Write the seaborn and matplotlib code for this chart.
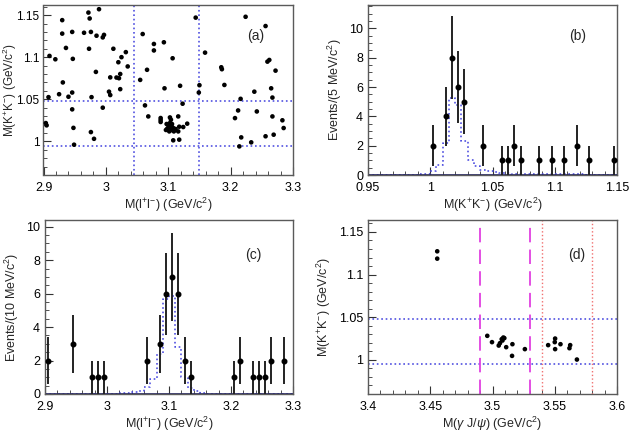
import numpy as np
import pandas as pd
import matplotlib
matplotlib.use("Agg")
import matplotlib.pyplot as plt
from matplotlib.ticker import MultipleLocator, FuncFormatter
import seaborn as sns

# ---------------- data ----------------
# (a) scatter: M(l+l-) vs M(K+K-)
a_mll = [2.9037, 2.905, 2.9096, 2.908, 2.919, 2.925, 2.930, 2.930, 2.931, 2.936, 2.940, 2.946,
         2.946, 2.947, 2.946, 2.948, 2.949, 2.965, 2.972, 2.974, 2.973, 2.976, 2.977, 2.976,
         2.981, 2.984, 2.985, 2.989, 2.995, 2.997, 2.995, 3.007, 3.005, 3.007, 3.012, 3.017,
         3.020, 3.021, 3.023, 3.023, 3.025, 3.032, 3.035,
         3.055, 3.059, 3.0627, 3.066, 3.068, 3.077, 3.077, 3.093, 3.094, 3.107, 3.119, 3.123,
         3.144, 3.150, 3.149,
         3.0878, 3.0878, 3.0878, 3.1027, 3.1043, 3.116, 3.0974, 3.100, 3.1016, 3.0984, 3.0963,
         3.1054, 3.108, 3.1054, 3.1016, 3.109, 3.1118, 3.116, 3.1176, 3.124, 3.1304, 3.108,
         3.1176, 3.1027, 3.106,
         3.159, 3.185, 3.186, 3.190, 3.207, 3.212, 3.216, 3.214, 3.217, 3.224, 3.233, 3.238,
         3.242, 3.256, 3.256, 3.259, 3.262, 3.265, 3.267, 3.267, 3.269, 3.272, 3.283, 3.285]
a_mkk = [1.0217, 1.019, 1.1015, 1.0525, 1.0975, 1.056, 1.144, 1.128, 1.070, 1.111, 1.053, 1.058,
         1.130, 1.098, 1.038, 1.016, 0.996, 1.129, 1.153, 1.146, 1.110, 1.130, 1.0525, 1.011,
         1.003, 1.0825, 1.1255, 1.157, 1.1235, 1.1265, 1.040, 1.076, 1.059, 1.055, 1.110, 1.0758,
         1.094, 1.075, 1.080, 1.062, 1.100, 1.106, 1.089,
         1.073, 1.1275, 1.0427, 1.085, 1.0296, 1.1157, 1.108, 1.1177, 1.063, 1.0987, 1.066, 1.0447,
         1.147, 1.0667, 1.058,
         1.0277, 1.0253, 1.023, 1.0284, 1.0257, 1.0296, 1.0206, 1.019, 1.0166, 1.015, 1.0135,
         1.0178, 1.0159, 1.0135, 1.0118, 1.0118, 1.0147, 1.0118, 1.0174, 1.017, 1.021, 1.0012,
         1.002, 1.0218, 1.0206,
         1.1054, 1.088, 1.0857, 1.067, 1.0276, 1.0367, 1.0505, 0.994, 1.0047, 1.148, 0.9988, 1.059,
         1.0355, 1.137, 1.006, 1.0947, 1.0967, 1.063, 1.052, 1.0296, 1.0079, 1.084, 1.025, 1.0158]

# (b) M(K+K-) distribution, 5 MeV bins
b_x = [1.0025, 1.0125, 1.0175, 1.0225, 1.0275, 1.0425, 1.0575, 1.0625, 1.0675, 1.0725,
       1.0875, 1.0975, 1.1075, 1.1175, 1.1275, 1.1475]
b_n = [2, 4, 8, 6, 5, 2, 1, 1, 2, 1, 1, 1, 1, 2, 1, 1]
b_mc_lo, b_mc_hi, b_mc_w = 0.95, 1.15, 0.005
b_mc = [0.02, 0.02, 0.02, 0.02, 0.02, 0.02, 0.02, 0.03, 0.04, 0.08,
        0.30, 0.65, 2.15, 5.25, 4.75, 2.30, 1.05, 0.60, 0.35, 0.25,
        0.18, 0.15, 0.12, 0.10, 0.08, 0.07, 0.06, 0.06, 0.05, 0.05,
        0.05, 0.04, 0.04, 0.04, 0.04, 0.03, 0.03, 0.03, 0.03, 0.03]

# (c) M(l+l-) distribution, 10 MeV bins
c_x = [2.905, 2.945, 2.975, 2.985, 2.995, 3.065, 3.085, 3.095, 3.105, 3.115, 3.125, 3.135,
       3.205, 3.215, 3.235, 3.245, 3.255, 3.265, 3.285]
c_n = [2, 3, 1, 1, 1, 2, 3, 6, 7, 6, 2, 1, 1, 2, 1, 1, 1, 2, 2]
c_mc_lo, c_mc_hi, c_mc_w = 2.9, 3.3, 0.01
c_mc = [0.02, 0.02, 0.02, 0.02, 0.02, 0.02, 0.02, 0.02, 0.02, 0.02,
        0.02, 0.02, 0.03, 0.05, 0.10, 0.15, 0.40, 0.90, 2.40, 5.70,
        5.85, 2.80, 1.00, 0.35, 0.15, 0.05, 0.02, 0.02, 0.02, 0.02,
        0.02, 0.02, 0.02, 0.02, 0.02, 0.02, 0.02, 0.02, 0.02, 0.02]

# (d) scatter: M(gamma J/psi) vs M(K+K-)
d_mgj = [3.4556, 3.4556, 3.4958, 3.4996, 3.505, 3.506, 3.5074, 3.5087, 3.5095, 3.508, 3.511,
         3.516, 3.5157, 3.526, 3.5447, 3.5503, 3.5500, 3.5503, 3.5546, 3.5624, 3.5618, 3.5678]
d_mkk = [1.1273, 1.1187, 1.0282, 1.0208, 1.0168, 1.0196, 1.0243, 1.0262, 1.0255, 1.0227, 1.0149,
         1.0184, 1.0047, 1.0126, 1.0173, 1.025, 1.0208, 1.0126, 1.0184, 1.0173, 1.0137, 1.0004]

# selection lines
mll_cuts = [3.045, 3.15]
mkk_cuts = [0.995, 1.048]
sig_win = [3.49, 3.53]
side_win = [3.54, 3.58]

# ---------------- style ----------------
sns.set_theme(style="white")
plt.rcParams['font.family'] = ['Liberation Sans', 'DejaVu Sans']
plt.rcParams['mathtext.fontset'] = 'custom'
plt.rcParams['mathtext.rm'] = 'Liberation Sans'
plt.rcParams['mathtext.it'] = 'Liberation Sans:italic'
plt.rcParams['mathtext.bf'] = 'Liberation Sans:bold'

BLUE = '#5050e0'
FRAME = '#5a5a5a'
TICK_FS = 9
LAB_FS = 9

fig = plt.figure(figsize=(6.29, 4.33), dpi=100)
W, H = 629, 433
def make_ax(l, r, t, b):
    return fig.add_axes([l / W, 1 - b / H, (r - l) / W, (b - t) / H])

ax_a = make_ax(43.5, 293, 5, 175)
ax_b = make_ax(368, 617, 5, 175)
ax_c = make_ax(45, 293, 220, 394)
ax_d = make_ax(368, 617, 220, 394)

lab_mkk = r'M(K$^{+}$K$^{-}$) (GeV/c$^{2}$)'
lab_mll = r'M(l$^{+}$l$^{-}$) (GeV/c$^{2}$)'

def fmt(v, p):
    return ('%.2f' % v).rstrip('0').rstrip('.')

def style_ax(ax, xmaj, xmin, ymaj, ymin):
    for s in ax.spines.values():
        s.set_color(FRAME)
        s.set_linewidth(1.0)
    ax.xaxis.set_major_locator(MultipleLocator(xmaj))
    ax.xaxis.set_minor_locator(MultipleLocator(xmin))
    ax.yaxis.set_major_locator(MultipleLocator(ymaj))
    ax.yaxis.set_minor_locator(MultipleLocator(ymin))
    ax.tick_params(which='both', direction='in', top=False, right=False,
                   bottom=True, left=True, colors='#333333', labelcolor='black')
    ax.tick_params(which='major', length=6, width=0.8, labelsize=TICK_FS)
    ax.tick_params(axis='x', which='major', pad=5)
    ax.tick_params(axis='y', which='major', pad=3.5)
    ax.tick_params(which='minor', length=3, width=0.6)
    ax.xaxis.set_major_formatter(FuncFormatter(fmt))
    ax.yaxis.set_major_formatter(FuncFormatter(fmt))

def mc_frame(lo, hi, w, vals):
    n = len(vals)
    edges = [round(lo + i * w, 4) for i in range(n + 1)]
    centers = [round(lo + (i + 0.5) * w, 5) for i in range(n)]
    return pd.DataFrame({'x': centers, 'w': vals}), edges

# (a)
df_a = pd.DataFrame({'mll': a_mll, 'mkk': a_mkk})
sns.scatterplot(data=df_a, x='mll', y='mkk', ax=ax_a, color='black', s=11, edgecolor='none', zorder=3)
for v in mll_cuts:
    ax_a.axvline(v, color=BLUE, ls=':', lw=1.2)
for v in mkk_cuts:
    ax_a.axhline(v, color=BLUE, ls=':', lw=1.2)
ax_a.set_xlim(2.9, 3.3)
ax_a.set_ylim(0.96, 1.162)
style_ax(ax_a, 0.1, 0.02, 0.05, 0.01)
ax_a.tick_params(axis='y', which='major', labelsize=8.5, pad=3)
ax_a.set_xlabel(lab_mll, fontsize=LAB_FS, labelpad=1)
ax_a.set_ylabel(lab_mkk, fontsize=8.5)
ax_a.yaxis.set_label_coords(-0.100, 0.5)
ax_a.text(0.85, 0.82, '(a)', transform=ax_a.transAxes, fontsize=10, ha='center', va='center')

# (b)
df_bmc, b_edges = mc_frame(b_mc_lo, b_mc_hi, b_mc_w, b_mc)
sns.histplot(data=df_bmc, x='x', weights='w', bins=b_edges,
             element='step', fill=False, ax=ax_b, color=BLUE, linestyle=':', linewidth=1.2)
ax_b.errorbar(b_x, b_n, yerr=np.sqrt(b_n), fmt='o', color='black', ecolor='#222222',
              ms=3.3, elinewidth=1.4, capsize=0, zorder=4)
ax_b.axhline(0, color='#202060', lw=1.2)
ax_b.set_xlim(0.95, 1.15)
ax_b.set_ylim(0, 11.6)
style_ax(ax_b, 0.05, 0.01, 2, 0.5)
ax_b.set_xlabel(lab_mkk, fontsize=LAB_FS, labelpad=1)
ax_b.set_ylabel(r'Events/(5 MeV/c$^{2}$)', fontsize=LAB_FS, labelpad=4)
ax_b.text(0.84, 0.82, '(b)', transform=ax_b.transAxes, fontsize=10, ha='center', va='center')

# (c)
df_cmc, c_edges = mc_frame(c_mc_lo, c_mc_hi, c_mc_w, c_mc)
sns.histplot(data=df_cmc, x='x', weights='w', bins=c_edges,
             element='step', fill=False, ax=ax_c, color=BLUE, linestyle=':', linewidth=1.2)
ax_c.errorbar(c_x, c_n, yerr=np.sqrt(c_n), fmt='o', color='black', ecolor='#222222',
              ms=3.3, elinewidth=1.4, capsize=0, zorder=4)
ax_c.axhline(0, color='#202060', lw=1.2)
ax_c.set_xlim(2.9, 3.3)
ax_c.set_ylim(0, 10.4)
style_ax(ax_c, 0.1, 0.02, 2, 0.5)
ax_c.set_xlabel(lab_mll, fontsize=LAB_FS, labelpad=1)
ax_c.set_ylabel(r'Events/(10 MeV/c$^{2}$)', fontsize=LAB_FS, labelpad=4)
ax_c.text(0.84, 0.80, '(c)', transform=ax_c.transAxes, fontsize=10, ha='center', va='center')

# (d)
df_d = pd.DataFrame({'mgj': d_mgj, 'mkk': d_mkk})
sns.scatterplot(data=df_d, x='mgj', y='mkk', ax=ax_d, color='black', s=11, edgecolor='none', zorder=3)
for v in mkk_cuts:
    ax_d.axhline(v, color=BLUE, ls=':', lw=1.2)
for v in sig_win:
    ax_d.axvline(v, color='#e040e0', ls=(0, (8, 4)), lw=1.3)
for v in side_win:
    ax_d.axvline(v, color='#f07070', ls=':', lw=1.0)
ax_d.set_xlim(3.4, 3.6)
ax_d.set_ylim(0.96, 1.164)
style_ax(ax_d, 0.05, 0.01, 0.05, 0.01)
ax_d.set_xlabel(r'M($\gamma$ J/$\psi$) (GeV/c$^{2}$)', fontsize=LAB_FS, labelpad=1)
ax_d.set_ylabel(lab_mkk, fontsize=LAB_FS, labelpad=4)
ax_d.text(0.84, 0.80, '(d)', transform=ax_d.transAxes, fontsize=10, ha='center', va='center')

fig.savefig('out.png', dpi=100)
